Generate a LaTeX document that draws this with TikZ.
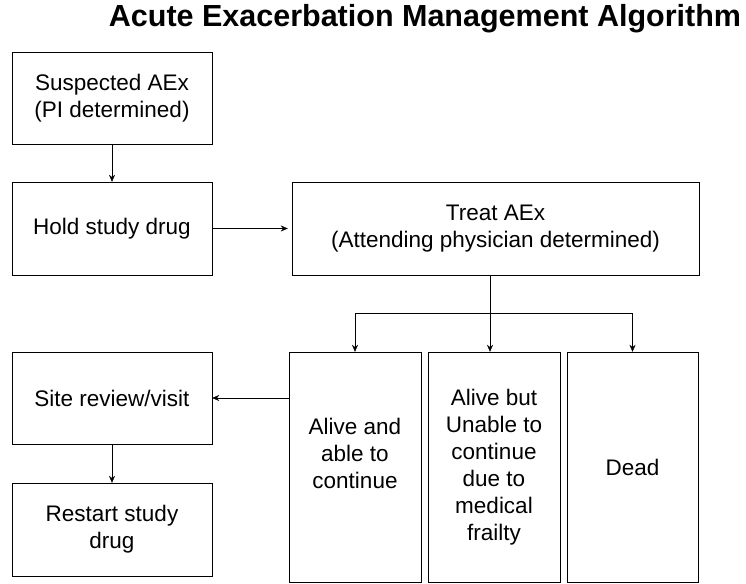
\documentclass[tikz,border=0pt]{standalone}
\usepackage{fontspec}
\setmainfont{Liberation Sans}
\usetikzlibrary{positioning,arrows.meta}
\tikzset{->, % every connector gets an arrow head
>={Stealth[length=7pt,width=6pt]}, % small filled heads
line width=0.8pt,
box/.style={draw, -, align=center, font=\fontsize{22.5}{27}\selectfont}, % the boxes of the chart
}

\begin{document}
\begin{tikzpicture}[x=1pt, y=-1pt]
\useasboundingbox (0,0) rectangle (746,583);
\node[-, font=\fontsize{30.5}{34}\selectfont\bfseries] (title) at (425,19) {Acute Exacerbation Management Algorithm};
\node[box, minimum width=200pt, minimum height=92pt] (suspect) at (112,98) {Suspected AEx\\(PI determined)};
\node[box, minimum width=200pt, minimum height=93pt] (hold) at (112,228.5) {Hold study drug};
\node[box, minimum width=407pt, minimum height=93pt] (treat) at (495.5,228.5) {Treat AEx\\(Attending physician determined)};
\node[box, minimum width=132pt, minimum height=230pt, text depth=27pt] (alive) at (355,467) {Alive and\\able to\\continue};
\node[box, minimum width=132pt, minimum height=230pt] (frail) at (494,467) {Alive but\\Unable to\\continue\\due to\\medical\\frailty};
\node[box, minimum width=131pt, minimum height=230pt] (dead) at (632.5,467) {Dead};
\node[box, minimum width=200pt, minimum height=92pt] (site) at (112,398) {Site review/visit};
\node[box, minimum width=200pt, minimum height=93pt] (restart) at (112,529.5) {Restart study\\drug};
\coordinate (fork) at (490,313);
\draw (suspect) -- (hold);
\draw[shorten >=4pt] (hold) -- (treat);
\draw[-] (treat.south -| fork) -- (fork);
\draw (fork) -| (alive.north);
\draw (fork) -- (fork |- frail.north);
\draw (fork) -| (dead.north);
\draw (alive.west |- site) -- (site.east);
\draw (site) -- (restart);
\end{tikzpicture}
\end{document}
